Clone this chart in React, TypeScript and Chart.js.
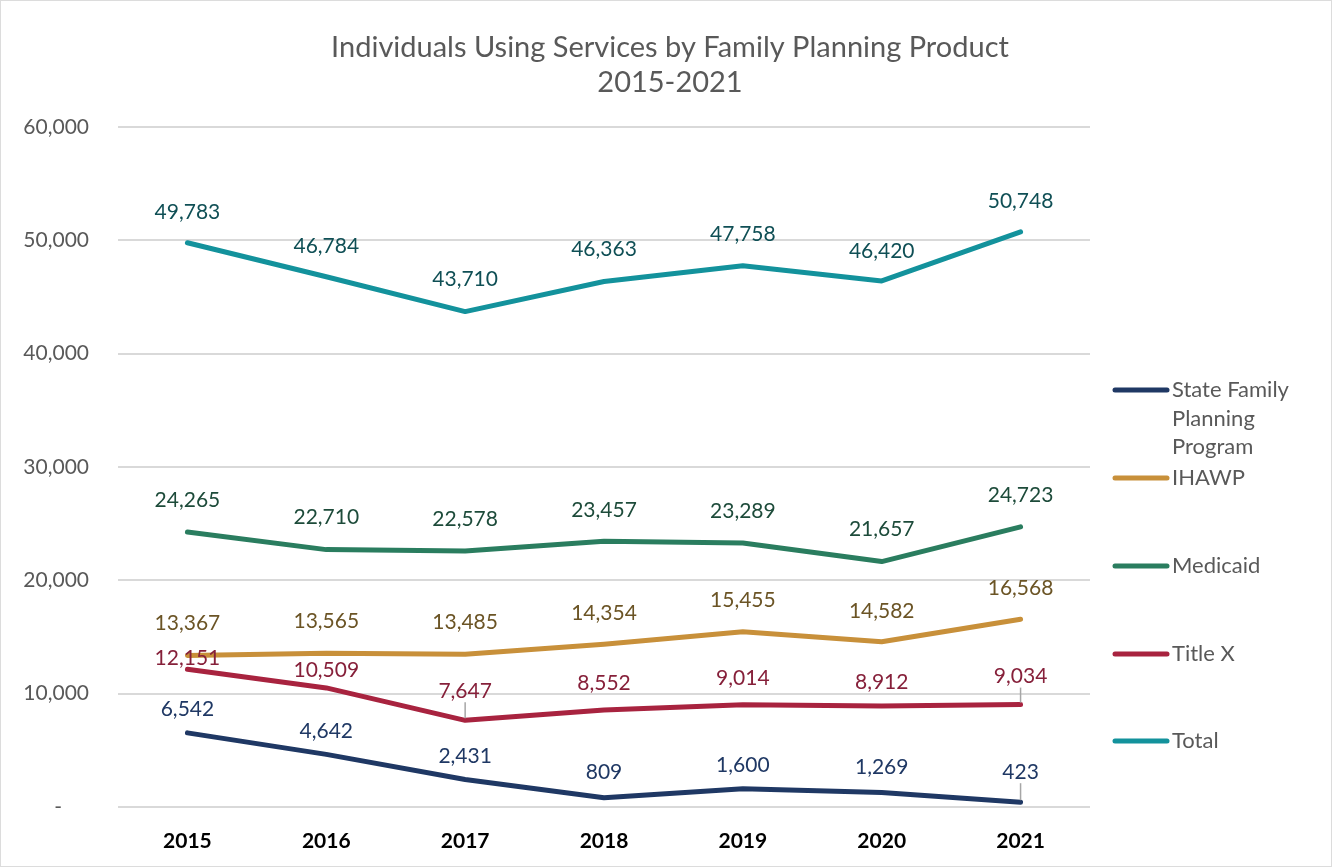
import React, { useEffect, useRef } from "react";
import { Chart, registerables } from "chart.js";

Chart.register(...registerables);

const years = ["2015", "2016", "2017", "2018", "2019", "2020", "2021"];
const stateFamilyPlanning = [6542, 4642, 2431, 809, 1600, 1269, 423];
const ihawp = [13367, 13565, 13485, 14354, 15455, 14582, 16568];
const medicaid = [24265, 22710, 22578, 23457, 23289, 21657, 24723];
const titleX = [12151, 10509, 7647, 8552, 9014, 8912, 9034];
const total = [49783, 46784, 43710, 46363, 47758, 46420, 50748];

const titleLines = ["Individuals Using Services by Family Planning Product", "2015-2021"];
const yTicks = [0, 10000, 20000, 30000, 40000, 50000, 60000];

const FONT = "Lato, 'Open Sans', sans-serif";

type Series = {
  label: string;
  legendLines: string[];
  data: number[];
  color: string;
  labelColor: string;
  lift: number[];
  leader: boolean[];
};

const series: Series[] = [
  {
    label: "State Family Planning Program",
    legendLines: ["State Family", "Planning", "Program"],
    data: stateFamilyPlanning,
    color: "#1F3864",
    labelColor: "#1F3864",
    lift: [24, 23, 23, 26, 24, 25, 30],
    leader: [false, false, false, false, false, false, true],
  },
  {
    label: "IHAWP",
    legendLines: ["IHAWP"],
    data: ihawp,
    color: "#C8903A",
    labelColor: "#6B5425",
    lift: [32, 32, 32, 31, 32, 31, 31],
    leader: [false, false, false, false, false, false, false],
  },
  {
    label: "Medicaid",
    legendLines: ["Medicaid"],
    data: medicaid,
    color: "#2A7D5F",
    labelColor: "#1D4B3A",
    lift: [32, 32, 32, 31, 32, 32, 32],
    leader: [false, false, false, false, false, false, false],
  },
  {
    label: "Title X",
    legendLines: ["Title X"],
    data: titleX,
    color: "#A8233F",
    labelColor: "#86203A",
    lift: [11, 18, 29, 27, 27, 24, 28],
    leader: [false, false, true, false, false, false, true],
  },
  {
    label: "Total",
    legendLines: ["Total"],
    data: total,
    color: "#13929C",
    labelColor: "#0F4F55",
    lift: [31, 31, 32, 32, 32, 30, 31],
    leader: [false, false, false, false, false, false, false],
  },
];

const legendRows = [390, 478, 566, 654, 741];

const fmt = (v: number) => v.toLocaleString("en-US");

export default function App() {
  const ref = useRef<HTMLCanvasElement | null>(null);

  useEffect(() => {
    if (!ref.current) return;

    const decorPlugin = {
      id: "decor",
      beforeDraw(chart: any) {
        const ctx = chart.ctx;
        ctx.save();
        ctx.fillStyle = "#FFFFFF";
        ctx.fillRect(0, 0, chart.width, chart.height);
        ctx.strokeStyle = "#DCDCDC";
        ctx.lineWidth = 1;
        ctx.strokeRect(0.5, 0.5, chart.width - 1, chart.height - 1);
        // title
        ctx.fillStyle = "#595959";
        ctx.font = `29px ${FONT}`;
        ctx.textAlign = "center";
        ctx.textBaseline = "middle";
        titleLines.forEach((t, i) => ctx.fillText(t, chart.width / 2 + 4, 48 + i * 35));
        ctx.restore();
      },
      afterDatasetsDraw(chart: any) {
        const ctx = chart.ctx;
        ctx.save();
        ctx.font = `21px ${FONT}`;
        ctx.textAlign = "center";
        ctx.textBaseline = "middle";
        chart.data.datasets.forEach((ds: any, di: number) => {
          const s = series[di];
          const meta = chart.getDatasetMeta(di);
          meta.data.forEach((pt: any, i: number) => {
            const ly = pt.y - s.lift[i];
            if (s.leader[i]) {
              ctx.strokeStyle = "#A6A6A6";
              ctx.lineWidth = 1.5;
              ctx.beginPath();
              ctx.moveTo(pt.x, pt.y - 2);
              ctx.lineTo(pt.x, ly + 11);
              ctx.stroke();
            }
            ctx.fillStyle = s.labelColor;
            ctx.fillText(fmt(ds.data[i]), pt.x, ly);
          });
        });
        ctx.restore();
      },
      afterDraw(chart: any) {
        const ctx = chart.ctx;
        ctx.save();
        ctx.font = `22px ${FONT}`;
        ctx.textAlign = "left";
        ctx.textBaseline = "middle";
        series.forEach((s, i) => {
          const y = legendRows[i];
          ctx.strokeStyle = s.color;
          ctx.lineWidth = 5;
          ctx.lineCap = "round";
          ctx.beginPath();
          ctx.moveTo(1115, y);
          ctx.lineTo(1167, y);
          ctx.stroke();
          ctx.fillStyle = "#595959";
          s.legendLines.forEach((t, k) => ctx.fillText(t, 1172, y + k * 28.5));
        });
        ctx.restore();
      },
    };

    const chart = new Chart(ref.current, {
      type: "line",
      data: {
        labels: years,
        datasets: series.map((s) => ({
          label: s.label,
          data: s.data,
          borderColor: s.color,
          backgroundColor: s.color,
          borderWidth: 5,
          borderCapStyle: "round" as const,
          borderJoinStyle: "round" as const,
          pointRadius: 0,
          pointHoverRadius: 0,
          tension: 0,
          fill: false,
        })),
      },
      options: {
        animation: false,
        responsive: false,
        maintainAspectRatio: false,
        layout: { padding: { top: 127, right: 242, bottom: 0, left: 0 } },
        plugins: {
          legend: { display: false },
          title: { display: false },
          tooltip: { enabled: false },
        },
        scales: {
          x: {
            type: "category",
            offset: true,
            grid: { display: false, drawTicks: false },
            border: { display: false },
            afterFit: (s: any) => {
              s.height = 60;
            },
            ticks: {
              padding: 22,
              color: "#000000",
              font: { family: FONT, size: 21, weight: "bold" },
            },
          },
          y: {
            min: 0,
            max: 60000,
            afterFit: (s: any) => {
              s.width = 118;
            },
            afterBuildTicks: (s: any) => {
              s.ticks = yTicks.map((v) => ({ value: v }));
            },
            grid: { color: "#D9D9D9", lineWidth: 2, drawTicks: false },
            border: { display: false },
            ticks: {
              padding: 29,
              color: "#595959",
              font: { family: FONT, size: 21 },
              callback: (v: any) => (Number(v) === 0 ? "-     " : fmt(Number(v))),
            },
          },
        },
      },
      plugins: [decorPlugin],
    });

    return () => chart.destroy();
  }, []);

  return (
    <div style={{ position: "absolute", left: 0, top: 0, width: 1332, height: 867 }}>
      <canvas ref={ref} width={1332} height={867} style={{ display: "block" }} />
    </div>
  );
}
